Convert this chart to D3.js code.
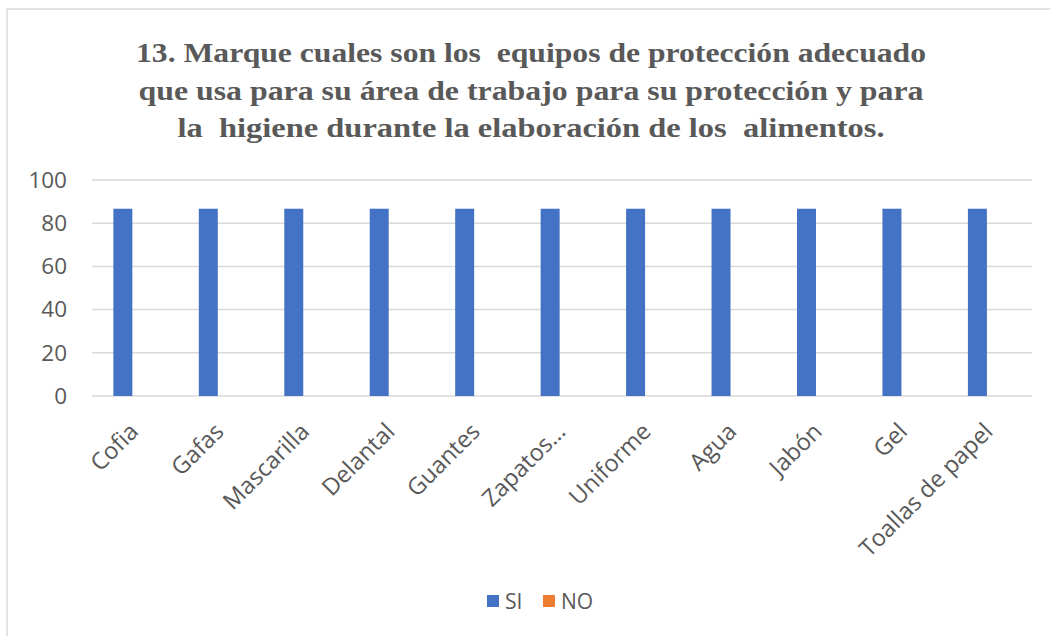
<!DOCTYPE html>
<html>
<head>
<meta charset="utf-8">
<script src="https://cdn.jsdelivr.net/npm/d3@7"></script>
<style>
  body { margin: 0; background: #fff; }
  svg { display: block; }
</style>
</head>
<body>
<svg id="chart"></svg>
<script>
const categories = ["Cofia", "Gafas", "Mascarilla", "Delantal", "Guantes", "Zapatos…",
  "Uniforme", "Agua", "Jabón", "Gel", "Toallas de papel"];
const seriesNames = ["SI", "NO"];
const siValues = [86.7, 86.7, 86.7, 86.7, 86.7, 86.7, 86.7, 86.7, 86.7, 86.7, 86.7];
const noValues = [0, 0, 0, 0, 0, 0, 0, 0, 0, 0, 0];
const yTicks = [0, 20, 40, 60, 80, 100];
const titleLines = [
  "13. Marque cuales son los  equipos de protección adecuado",
  "que usa para su área de trabajo para su protección y para",
  "la  higiene durante la elaboración de los  alimentos."
];
// rendered width of each title line in the picture
const titleWidths = [790, 785, 707];

const width = 1050, height = 636;
const margin = { top: 180, right: 18, bottom: 240, left: 92 };
const colors = { SI: "#4472C4", NO: "#ED7D31" };
const textColor = "#595959";

const svg = d3.select("#chart").attr("width", width).attr("height", height);

// chart border
svg.append("rect")
  .attr("x", 7).attr("y", 9)
  .attr("width", width).attr("height", height)
  .attr("fill", "#fff")
  .attr("stroke", "#d9d9d9").attr("stroke-width", 1.5);

// title
svg.append("g")
  .selectAll("text")
  .data(titleLines)
  .join("text")
  .attr("x", 531)
  .attr("y", (d, i) => 62 + i * 37.5)
  .attr("text-anchor", "middle")
  .attr("textLength", (d, i) => titleWidths[i])
  .attr("lengthAdjust", "spacingAndGlyphs")
  .style("font-family", "'Liberation Serif', 'Times New Roman', serif")
  .style("font-weight", "bold")
  .style("font-size", "28px")
  .style("white-space", "pre")
  .attr("fill", textColor)
  .text(d => d);

const plotLeft = margin.left, plotRight = 1032;

const x0 = d3.scaleBand()
  .domain(categories)
  .range([plotLeft, plotRight])
  .paddingInner(0.5)
  .paddingOuter(0.25);

const x1 = d3.scaleBand()
  .domain(seriesNames)
  .range([0, x0.bandwidth()])
  .paddingInner(0.2);

const y = d3.scaleLinear()
  .domain([0, 100])
  .range([396, 180]);

// gridlines
svg.append("g")
  .selectAll("line")
  .data(yTicks)
  .join("line")
  .attr("x1", plotLeft).attr("x2", plotRight)
  .attr("y1", d => y(d)).attr("y2", d => y(d))
  .attr("stroke", "#d9d9d9").attr("stroke-width", 1.5);

// y labels
svg.append("g")
  .selectAll("text")
  .data(yTicks)
  .join("text")
  .attr("x", 67)
  .attr("y", d => y(d))
  .attr("dy", "0.35em")
  .attr("text-anchor", "end")
  .style("font-family", "'Open Sans', sans-serif")
  .style("font-size", "22.5px")
  .attr("fill", textColor)
  .text(d => d);

// bars
const rows = categories.map((c, i) => ({ cat: c, SI: siValues[i], NO: noValues[i] }));
svg.append("g")
  .selectAll("g")
  .data(rows)
  .join("g")
  .attr("transform", d => `translate(${x0(d.cat)},0)`)
  .selectAll("rect")
  .data(d => seriesNames.map(s => ({ key: s, value: d[s] })))
  .join("rect")
  .attr("x", d => x1(d.key))
  .attr("width", x1.bandwidth())
  .attr("y", d => y(d.value))
  .attr("height", d => y(0) - y(d.value))
  .attr("fill", d => colors[d.key]);

// x labels
svg.append("g")
  .selectAll("text")
  .data(categories)
  .join("text")
  .attr("transform", d => `translate(${x0(d) + x0.bandwidth() / 2 + 5},${y(0) + 37}) rotate(-45)`)
  .attr("text-anchor", "end")
  .style("font-family", "'Open Sans', sans-serif")
  .style("font-size", "23.5px")
  .attr("fill", textColor)
  .text(d => d);

// legend
const legend = svg.append("g");
const legendItems = [{ key: "SI", x: 487 }, { key: "NO", x: 543 }];
legend.selectAll("rect")
  .data(legendItems)
  .join("rect")
  .attr("x", d => d.x).attr("y", 595)
  .attr("width", 12).attr("height", 12)
  .attr("fill", d => colors[d.key]);
legend.selectAll("text")
  .data(legendItems)
  .join("text")
  .attr("x", d => d.x + 18).attr("y", 609)
  .style("font-family", "'Open Sans', sans-serif")
  .style("font-size", "21px")
  .attr("fill", textColor)
  .text(d => d.key);
</script>
</body>
</html>
